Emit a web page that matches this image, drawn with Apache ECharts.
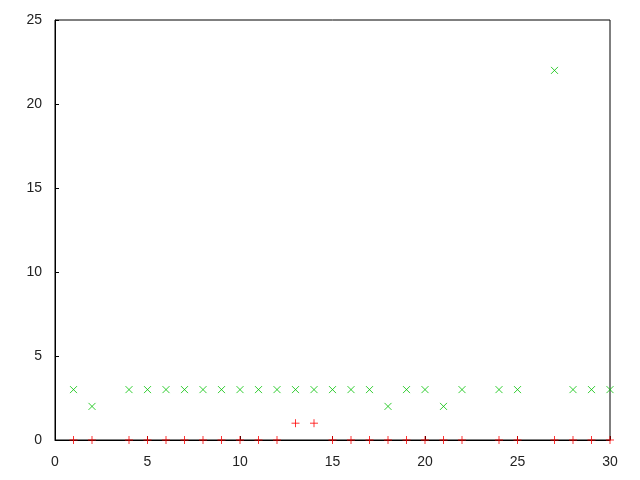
<!DOCTYPE html>
<html><head><meta charset="utf-8">
<script src="https://cdn.jsdelivr.net/npm/echarts@6/dist/echarts.min.js"></script>
<style>html,body{margin:0;padding:0;background:#fff}#c{width:640px;height:480px}</style>
</head><body><div id="c"></div>
<script>
const xs = [1,2,4,5,6,7,8,9,10,11,12,13,14,15,16,17,18,19,20,21,22,24,25,27,28,29,30];
const redVals = [0,0,0,0,0,0,0,0,0,0,0,1,1,0,0,0,0,0,0,0,0,0,0,0,0,0,0];
const greenVals = [3,2,3,3,3,3,3,3,3,3,3,3,3,3,3,3,2,3,3,2,3,3,3,22,3,3,3];
const xTicks = [0,5,10,15,20,25,30];
const yTicks = [0,5,10,15,20,25];

const chart = echarts.init(document.getElementById('c'), null, {renderer:'canvas'});
const plus = 'path://M5,0L5,10M0,5L10,5';
const cross = 'path://M0,0L10,10M10,0L0,10';
function axis(margin){
  return {
    axisLine:{show:true,onZero:false,lineStyle:{color:'#000',width:1}},
    axisTick:{show:true,inside:true,length:4,lineStyle:{color:'#000'}},
    splitLine:{show:false},
    axisLabel:{color:'#222',fontFamily:'Liberation Sans, Arial, sans-serif',fontSize:14,margin:margin}
  };
}
chart.setOption({
  animation:false,
  grid:{left:55,right:30,top:20,bottom:40,show:true,borderColor:'#000',borderWidth:1},
  xAxis:Object.assign({type:'value',min:xTicks[0],max:xTicks[xTicks.length-1],interval:5},axis(15)),
  yAxis:Object.assign({type:'value',min:yTicks[0],max:yTicks[yTicks.length-1],interval:5},axis(13)),
  series:[
    {type:'scatter',symbol:plus,symbolSize:8,
     itemStyle:{color:'transparent',borderColor:'#ff0000',borderWidth:1},
     data:xs.map((x,i)=>[x,redVals[i]]),z:3},
    {type:'scatter',symbol:cross,symbolSize:7,
     itemStyle:{color:'transparent',borderColor:'#00c000',borderWidth:1},
     data:xs.map((x,i)=>[x,greenVals[i]]),z:4}
  ]
});
</script></body></html>
